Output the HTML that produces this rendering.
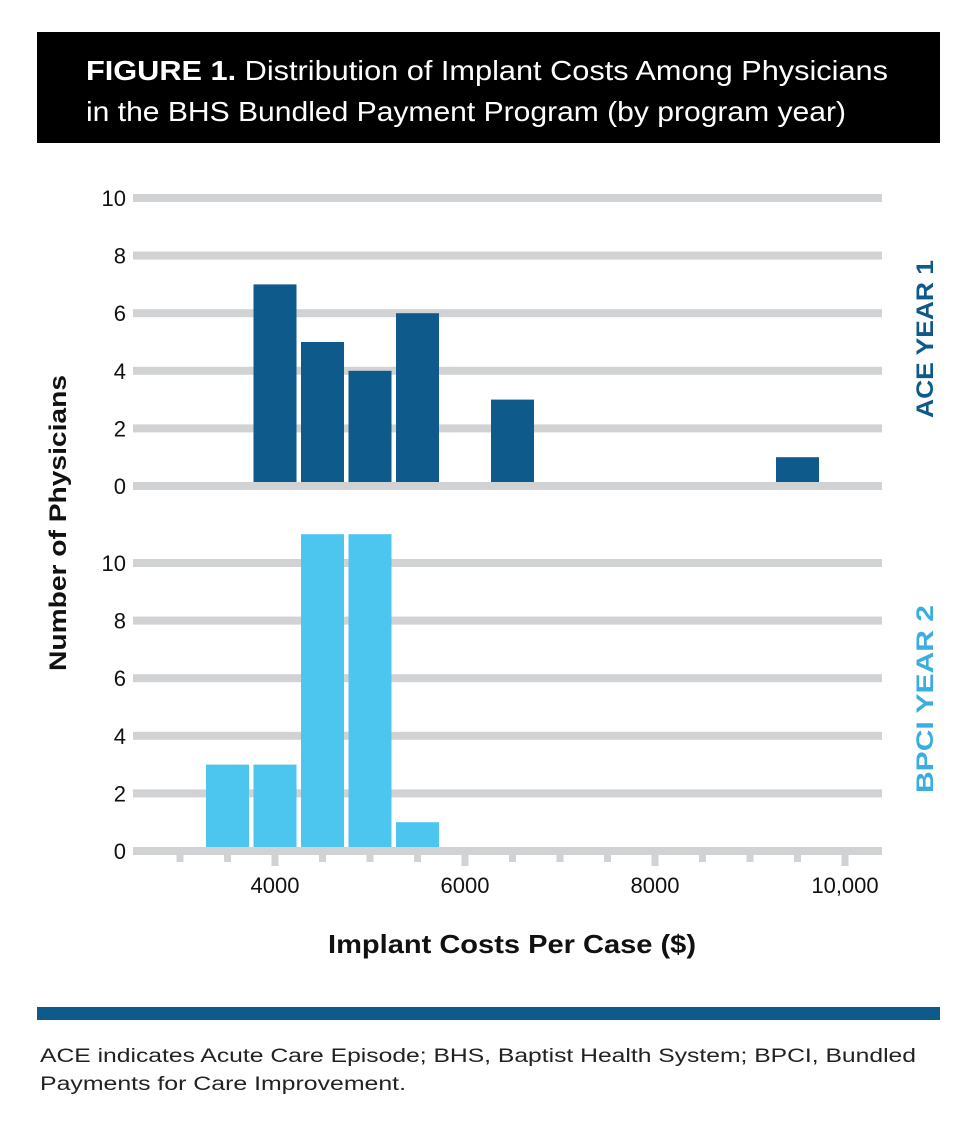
<!DOCTYPE html>
<html><head><meta charset="utf-8"><style>
body{margin:0;background:#fff;}
svg{display:block;font-family:"Liberation Sans",sans-serif;}
</style></head><body>
<svg width="980" height="1126" viewBox="0 0 980 1126">
<rect x="37" y="32" width="903" height="111" fill="#000"/>
<text x="86" y="80" fill="#fff" font-size="28" textLength="802" lengthAdjust="spacingAndGlyphs"><tspan font-weight="bold">FIGURE 1.</tspan> Distribution of Implant Costs Among Physicians</text>
<text x="86" y="121" fill="#fff" font-size="28" textLength="760" lengthAdjust="spacingAndGlyphs">in the BHS Bundled Payment Program (by program year)</text>
<g id="chart"></g>
<text transform="translate(66,523) rotate(-90)" text-anchor="middle" font-size="24" font-weight="bold" fill="#111" textLength="296" lengthAdjust="spacingAndGlyphs">Number of Physicians</text>
<text x="512" y="953" text-anchor="middle" font-size="26" font-weight="bold" fill="#111" textLength="368" lengthAdjust="spacingAndGlyphs">Implant Costs Per Case ($)</text>
<text transform="translate(933,339) rotate(-90)" text-anchor="middle" font-size="24" font-weight="bold" fill="#0e5a8a" textLength="158" lengthAdjust="spacingAndGlyphs">ACE YEAR 1</text>
<text transform="translate(933,699) rotate(-90)" text-anchor="middle" font-size="24" font-weight="bold" fill="#3aaee0" textLength="188" lengthAdjust="spacingAndGlyphs">BPCI YEAR 2</text>
<rect x="37" y="1007" width="903" height="13" fill="#0e5a8a"/>
<text x="40" y="1062" font-size="19" fill="#222" textLength="876" lengthAdjust="spacingAndGlyphs">ACE indicates Acute Care Episode; BHS, Baptist Health System; BPCI, Bundled</text>
<text x="40" y="1090" font-size="19" fill="#222" textLength="366" lengthAdjust="spacingAndGlyphs">Payments for Care Improvement.</text>
</svg>
<script>
const bins = [3500, 4000, 4500, 5000, 5500, 6000, 6500, 7000, 7500, 8000, 8500, 9000, 9500];
const aceYear1 = [0, 7, 5, 4, 6, 0, 3, 0, 0, 0, 0, 0, 1];
const bpciYear2 = [3, 3, 11, 11, 1, 0, 0, 0, 0, 0, 0, 0, 0];
const yTicks = [0, 2, 4, 6, 8, 10];
const xMajorTicks = [4000, 6000, 8000, 10000];
const xTickLabels = ["4000", "6000", "8000", "10,000"];
const xMinorTicks = [3000, 3500, 4500, 5000, 5500, 6500, 7000, 7500, 8500, 9000, 9500];

const NS = "http://www.w3.org/2000/svg";
const g = document.getElementById("chart");
const xs = v => 275 + (v - 4000) * 0.095;
const panels = [
  {y0: 486, data: aceYear1, color: "#0e5a8a", name: "ace"},
  {y0: 851, data: bpciYear2, color: "#4cc6ef", name: "bpci"}
];
const unit = 28.8;
function mk(tag, attrs){const e=document.createElementNS(NS,tag);for(const k in attrs)e.setAttribute(k,attrs[k]);g.appendChild(e);return e;}
panels.forEach(p => {
  const ys = v => p.y0 - v * unit;
  yTicks.forEach(t => {
    const l = mk("rect", {x: 133, y: ys(t) - 4, width: 749, height: 8, fill: "#d1d2d4"});
    
    
    const tx = mk("text", {x: 126, y: ys(t) + 8, "text-anchor": "end", "font-size": "22", fill: "#111"});
    tx.textContent = t;
    
    
  });
  bins.forEach((b, i) => {
    const v = p.data[i];
    if (!v) return;
    const r = mk("rect", {x: xs(b) - 21.5, y: ys(v), width: 43, height: v * unit - 4, fill: p.color});
    
    
  });
});
xMinorTicks.forEach(t => {
  const r = mk("rect", {x: xs(t) - 3.5, y: 855, width: 7, height: 7, fill: "#d1d2d4"});
  
  
});
xMajorTicks.forEach((t, i) => {
  const r = mk("rect", {x: xs(t) - 3.5, y: 855, width: 7, height: 11, fill: "#d1d2d4"});
  
  
  const tx = mk("text", {x: xs(t), y: 893, "text-anchor": "middle", "font-size": "22", fill: "#111"});
  tx.textContent = xTickLabels[i];
  
  
});
</script>
</body></html>
